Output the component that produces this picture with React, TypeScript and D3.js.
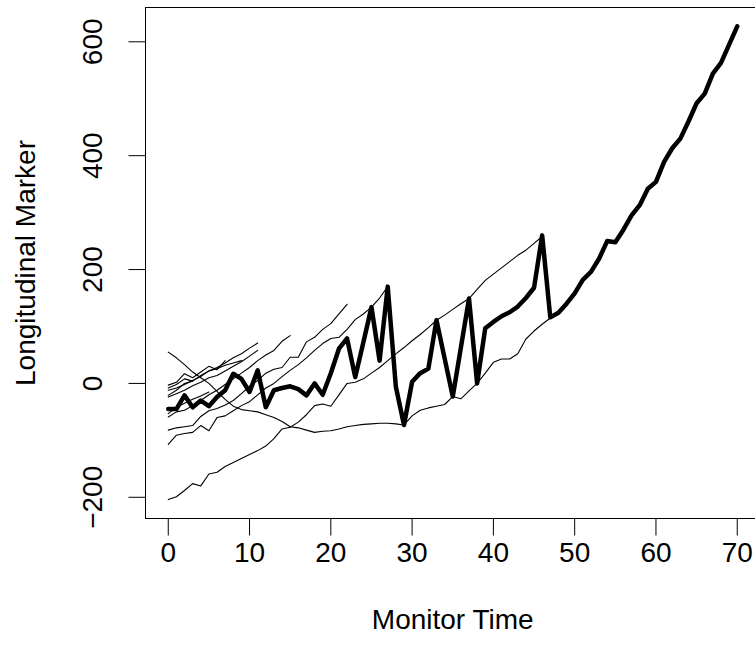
import React from 'react';
import * as d3 from 'd3';

const W = 755;
const H = 654;

const xTicks = [0, 10, 20, 30, 40, 50, 60, 70];
const yTicks = [-200, 0, 200, 400, 600];
const xLabel = 'Monitor Time';
const yLabel = 'Longitudinal Marker';

// highlighted subject (thick), values at times 0..70
const thickSeries = [
  -45, -45, -21, -42, -30, -40, -24, -12, 17, 8,
  -15, 23, -42, -12, -8, -5, -10, -21, 0, -20,
  18, 61, 79, 11, 72, 134, 40, 170, -6, -73,
  3, 18, 26, 111, 44, -23, 63, 149, 0, 97,
  108, 118, 125, 135, 150, 168, 260, 116, 124, 140,
  158, 182, 196, 219, 250, 248, 270, 295, 313, 342,
  354, 389, 413, 430, 460, 492, 509, 544, 563, 595,
  627,
];

// other subjects (thin), values at times 0..n-1
const lineA = [
  55, 45, 33, 20, 10, 0, -14, -28, -40, -46,
  -48, -50, -55, -60, -67, -76, -78, -82, -86, -84,
  -83, -80, -76, -74, -72, -71, -70, -70, -71, -73,
  -57, -47, -43, -40, -37, -23, -27, -13, 0, 18,
  37, 43, 43, 52, 78, 92, 104, 115,
];
const lineB = [
  -204, -199, -188, -176, -180, -159, -156, -146, -139, -132,
  -125, -118, -110, -97, -80, -77, -68, -55, -39, -36,
  -40, -20, 0, 2, 8, 18, 28, 40, 52, 63,
  75, 86, 98, 111, 120, 130, 140, 149, 165, 181,
  192, 203, 214, 225, 234, 246, 258,
];
const lineC = [
  -107, -91, -88, -86, -74, -83, -60, -57, -48, -39,
  -32, -20, -8, 0, 12, 23, 33, 45, 58, 70,
  79, 81, 95, 112, 122, 134, 150, 170,
];
const lineD = [
  -82, -78, -76, -74, -58, -48, -44, -38, -30, -18,
  -5, 5, 18, 25, 28, 46, 46, 73, 81, 95,
  105, 122, 139,
];
const lineE = [-59, -50, -47, -39, -30, -20, -12, -2, 8, 18, 28, 40, 50, 58, 74, 84];
const lineF = [-12, -8, -2, 5, 12, 22, 28, 36, 45, 52, 62, 71];
const lineG = [-24, -18, -12, -4, 2, 10, 14, 22, 30, 38, 48, 58];
const lineH = [-8, -2, 8, 4, 14, 22, 26, 32, 36, 40];
const lineI = [-3, 2, 17, 10, 20, 30, 24, 40];
const lineJ = [-21, -12, 0, 4];
const lineK = [-53, -42, -35, -28, -22, -15];

const thinSeries = [lineA, lineB, lineC, lineD, lineE, lineF, lineG, lineH, lineI, lineJ, lineK];

const FONT = '"Liberation Sans", Arial, Helvetica, sans-serif';

export default function App() {
  const left = 145.5;
  const right = 760;
  const top = 7.5;
  const bottom = 518.5;

  const allT = thickSeries.length - 1;
  const tPad = allT * 0.04;
  const x = d3.scaleLinear().domain([-tPad, allT + tPad]).range([left, right]);

  const allVals = [...thickSeries, ...thinSeries.flat()];
  const [vMin, vMax] = d3.extent(allVals) as [number, number];
  const vPad = (vMax - vMin) * 0.04;
  const y = d3.scaleLinear().domain([vMin - vPad, vMax + vPad]).range([bottom, top]);

  const line = d3
    .line<number>()
    .x((_, i) => x(i))
    .y((d) => y(d));

  const tickLen = 17;

  return (
    <svg
      width={W}
      height={H}
      style={{ position: 'absolute', left: 0, top: 0, background: '#fff' }}
      fontFamily={FONT}
    >
      <rect x={0} y={0} width={W} height={H} fill="#fff" />
      {thinSeries.map((s, k) => (
        <path
          key={k}
          d={line(s) || ''}
          fill="none"
          stroke="#000"
          strokeWidth={1.1}
          strokeLinejoin="round"
          strokeLinecap="round"
        />
      ))}
      <path
        d={line(thickSeries) || ''}
        fill="none"
        stroke="#000"
        strokeWidth={4.5}
        strokeLinejoin="round"
        strokeLinecap="round"
      />
      {/* box */}
      <rect
        x={left}
        y={top}
        width={right - left}
        height={bottom - top}
        fill="none"
        stroke="#000"
        strokeWidth={1}
      />
      {/* x axis */}
      <line x1={x(xTicks[0])} x2={x(xTicks[xTicks.length - 1])} y1={bottom} y2={bottom} stroke="#000" />
      {xTicks.map((t) => (
        <g key={t}>
          <line x1={x(t)} x2={x(t)} y1={bottom} y2={bottom + tickLen} stroke="#000" />
          <text x={x(t)} y={562} textAnchor="middle" fontSize={28} fill="#000">
            {t}
          </text>
        </g>
      ))}
      <text x={(left + right) / 2} y={629} textAnchor="middle" fontSize={28} fill="#000">
        {xLabel}
      </text>
      {/* y axis */}
      <line x1={left} x2={left} y1={y(yTicks[0])} y2={y(yTicks[yTicks.length - 1])} stroke="#000" />
      {yTicks.map((v) => (
        <g key={v}>
          <line x1={left - tickLen} x2={left} y1={y(v)} y2={y(v)} stroke="#000" />
          <text
            transform={`translate(102, ${y(v)}) rotate(-90)`}
            textAnchor="middle"
            fontSize={28}
            fill="#000"
          >
            {v < 0 ? '\u2212' + Math.abs(v) : v}
          </text>
        </g>
      ))}
      <text
        transform={`translate(35, ${(top + bottom) / 2}) rotate(-90)`}
        textAnchor="middle"
        fontSize={28}
        fill="#000"
      >
        {yLabel}
      </text>
    </svg>
  );
}
